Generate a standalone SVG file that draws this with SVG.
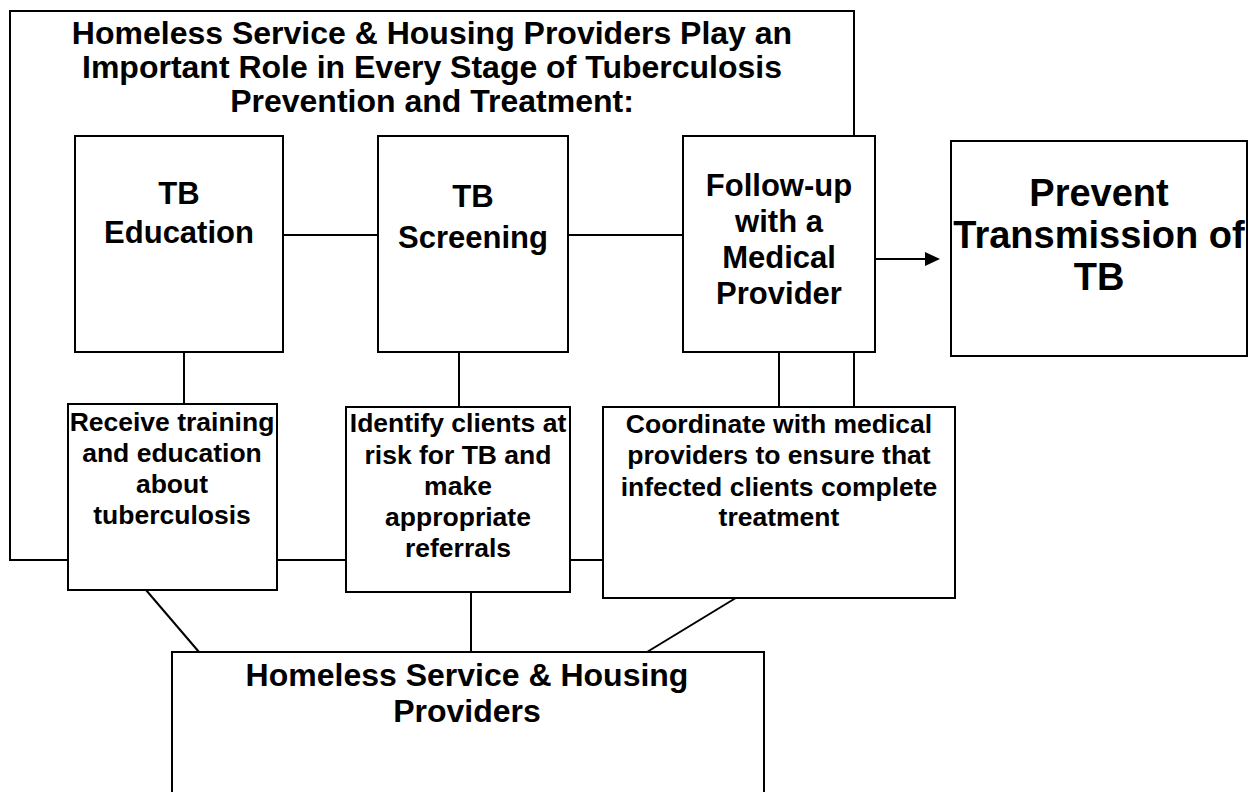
<svg xmlns="http://www.w3.org/2000/svg" width="1248" height="792" viewBox="0 0 1248 792">
<style>
.bx{fill:#fff;stroke:#000;stroke-width:2}
.ln{fill:none;stroke:#000;stroke-width:2}
text{font-family:"Liberation Sans",Arial,sans-serif;font-weight:bold;fill:#000;text-anchor:middle}
.t{font-size:32px}
.m{font-size:31px}
.h{font-size:32px}
.b{font-size:38px}
.s{font-size:26.5px}
</style>
<rect width="1248" height="792" fill="#fff"/>
<g id="connectors">
<polyline class="ln" points="68,560 10,560 10,11 854,11 854,407"/>
<line class="ln" x1="281" y1="235" x2="378" y2="235"/>
<line class="ln" x1="568" y1="235" x2="683" y2="235"/>
<line class="ln" x1="184" y1="348" x2="184" y2="405"/>
<line class="ln" x1="459" y1="348" x2="459" y2="407"/>
<line class="ln" x1="779" y1="348" x2="779" y2="407"/>
<line class="ln" x1="277" y1="560" x2="346" y2="560"/>
<line class="ln" x1="570" y1="560" x2="603" y2="560"/>
<line class="ln" x1="146" y1="590" x2="199" y2="652"/>
<line class="ln" x1="471" y1="592" x2="471" y2="652"/>
<line class="ln" x1="744" y1="593" x2="647" y2="652"/>
<path d="M875,259 L927,259" stroke="#000" stroke-width="2"/>
<path d="M925,252 L940,259 L925,266 z" fill="#000"/>
</g>
<g id="title">
<text class="t" x="432" y="44">Homeless Service &amp; Housing Providers Play an</text>
<text class="t" x="432" y="78">Important Role in Every Stage of Tuberculosis</text>
<text class="t" x="432" y="112">Prevention and Treatment:</text>
</g>
<g id="tb-education">
<rect class="bx" x="75" y="136" width="208" height="216"/>
<text class="m" x="179" y="204">TB</text>
<text class="m" x="179" y="243">Education</text>
</g>
<g id="tb-screening">
<rect class="bx" x="378" y="136" width="190" height="216"/>
<text class="m" x="473" y="207">TB</text>
<text class="m" x="473" y="248">Screening</text>
</g>
<g id="follow-up">
<rect class="bx" x="683" y="136" width="192" height="216"/>
<text class="m" x="779" y="196">Follow-up</text>
<text class="m" x="779" y="232">with a</text>
<text class="m" x="779" y="268">Medical</text>
<text class="m" x="779" y="304">Provider</text>
</g>
<g id="prevent">
<rect class="bx" x="951" y="141" width="296" height="215"/>
<text class="b" x="1099" y="206">Prevent</text>
<text class="b" x="1099" y="248">Transmission of</text>
<text class="b" x="1099" y="290">TB</text>
</g>
<g id="receive">
<rect class="bx" x="68" y="404" width="209" height="186"/>
<text class="s" x="172" y="431">Receive training</text>
<text class="s" x="172" y="462">and education</text>
<text class="s" x="172" y="493">about</text>
<text class="s" x="172" y="524">tuberculosis</text>
</g>
<g id="identify">
<rect class="bx" x="346" y="407" width="224" height="185"/>
<text class="s" x="458" y="432">Identify clients at</text>
<text class="s" x="458" y="464">risk for TB and</text>
<text class="s" x="458" y="495">make</text>
<text class="s" x="458" y="526">appropriate</text>
<text class="s" x="458" y="557">referrals</text>
</g>
<g id="coordinate">
<rect class="bx" x="603" y="407" width="352" height="191"/>
<text class="s" x="779" y="433">Coordinate with medical</text>
<text class="s" x="779" y="464">providers to ensure that</text>
<text class="s" x="779" y="496">infected clients complete</text>
<text class="s" x="779" y="526">treatment</text>
</g>
<g id="providers">
<rect class="bx" x="172" y="652" width="592" height="160"/>
<text class="h" x="467" y="686">Homeless Service &amp; Housing</text>
<text class="h" x="467" y="722">Providers</text>
</g>
</svg>
